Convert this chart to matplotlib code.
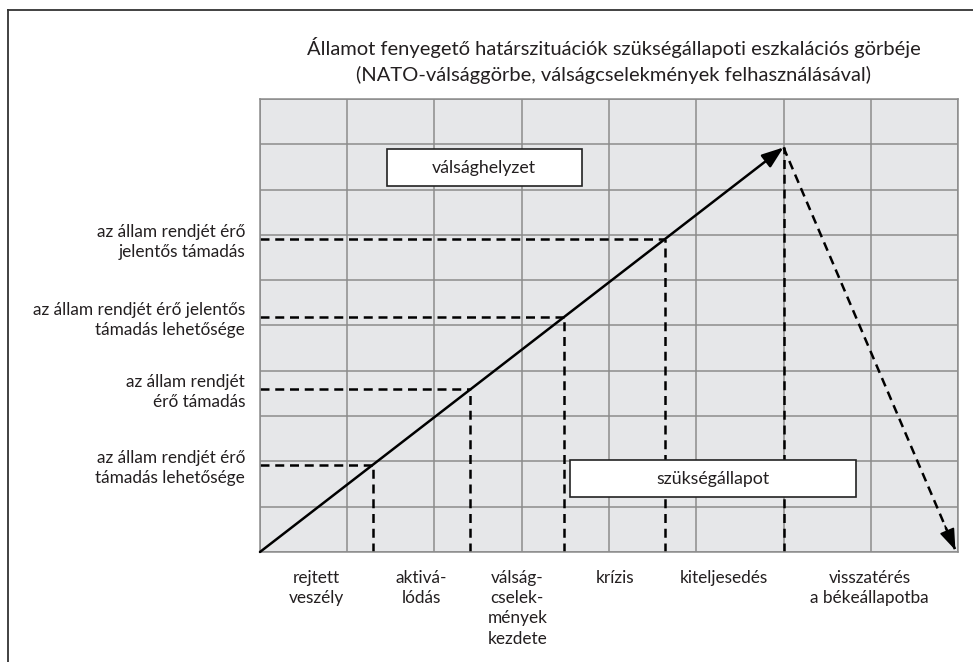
import matplotlib.pyplot as plt
from matplotlib.patches import Rectangle
from matplotlib.lines import Line2D

# ── Data ──────────────────────────────────────────────────────────────────────

title_lines = [
    "Államot fenyegető határszituációk szükségállapoti eszkalációs görbéje",
    "(NATO-válsággörbe, válságcselekmények felhasználásával)",
]

# escalation levels where the threat thresholds cross the curve (grid units)
level_labels = [
    "az állam rendjét érő\ntámadás lehetősége",
    "az állam rendjét\nérő támadás",
    "az állam rendjét érő jelentős\ntámadás lehetősége",
    "az állam rendjét érő\njelentős támadás",
]
level_values = [1.92, 3.59, 5.19, 6.91]

stage_labels = [
    "rejtett\nveszély",
    "aktivá-\nlódás",
    "válság-\ncselek-\nmények\nkezdete",
    "krízis",
    "kiteljesedés",
    "visszatérés\na békeállapotba",
]

peak = (6.0, 8.93)        # top of the escalation curve
return_end = (7.97, 0.04)  # end of the de-escalation arrow

box_labels = ["válsághelyzet", "szükségállapot"]

# ── Style ─────────────────────────────────────────────────────────────────────

plt.rcParams["font.family"] = ["Lato", "DejaVu Sans"]
GRID_BG = "#e6e7e9"
GRID_LINE = "#8c8c8c"
TEXT = "#231f20"
LW = 1.8

fig = plt.figure(figsize=(9.73, 6.62), dpi=100)
ax = fig.add_axes([0.2672, 0.1662, 0.7174, 0.6843])
ax.set_xlim(0, 8)
ax.set_ylim(0, 10)
ax.set_facecolor(GRID_BG)
ax.set_xticks(range(9))
ax.set_yticks(range(11))
ax.grid(True, color=GRID_LINE, linewidth=1.1)
ax.tick_params(length=0, labelbottom=False, labelleft=False)
for sp in ax.spines.values():
    sp.set_color(GRID_LINE)
    sp.set_linewidth(1.1)
ax.set_axisbelow(True)

# outer frame (top + left edge of the page box)
fig.add_artist(Line2D([8 / 973, 1.0], [1 - 10 / 662] * 2, color="#333333", lw=1.3))
fig.add_artist(Line2D([8 / 973] * 2, [0, 1 - 10 / 662], color="#333333", lw=1.3))

# title
for i, line in enumerate(title_lines):
    fig.text(0.6305, 0.9275 - i * 0.0408, line, ha="center", va="center",
             fontsize=14.5, color=TEXT)

dash = (0, (3.6, 2.3))

# escalation curve with arrowhead
ax.annotate("", xy=peak, xytext=(0, 0),
            arrowprops=dict(arrowstyle="-|>,head_length=0.55,head_width=0.2",
                            color="black", lw=LW,
                            mutation_scale=24, shrinkA=0, shrinkB=0))

# threshold guides
slope = peak[1] / peak[0]
event_x = [lv / slope for lv in level_values]
for ex, lv, lab in zip(event_x, level_values, level_labels):
    ax.plot([0, ex], [lv, lv], color="black", lw=LW, linestyle=dash,
            clip_on=False)
    ax.plot([ex, ex], [0, lv], color="black", lw=LW, linestyle=dash)
    ax.text(-0.17, lv - 0.06, lab, ha="right", va="center", fontsize=12.4,
            color=TEXT, linespacing=1.32, clip_on=False)
ax.plot([peak[0], peak[0]], [0, peak[1]], color="black", lw=LW, linestyle=dash)

# de-escalation (dashed) arrow
ax.plot([peak[0], return_end[0]], [peak[1], return_end[1]], color="black",
        lw=LW, linestyle=dash)
dx = return_end[0] - peak[0]
dy = return_end[1] - peak[1]
ax.annotate("", xy=return_end,
            xytext=(return_end[0] - dx * 0.06, return_end[1] - dy * 0.06),
            arrowprops=dict(arrowstyle="-|>,head_length=0.55,head_width=0.2",
                            color="black", lw=1.2,
                            mutation_scale=24, shrinkA=0, shrinkB=0))

# stage labels under the axis, centred between the guide lines
bounds = [0] + event_x + [peak[0], return_end[0]]
for i, lab in enumerate(stage_labels):
    cx = (bounds[i] + bounds[i + 1]) / 2
    ax.text(cx, -0.4, lab, ha="center", va="top", fontsize=12.4, color=TEXT,
            linespacing=1.32, clip_on=False)

# phase boxes
box_geom = [(1.45, 8.07, 2.24, 0.82), (3.55, 1.21, 3.28, 0.81)]
for (bx, by, bw, bh), lab in zip(box_geom, box_labels):
    ax.add_patch(Rectangle((bx, by), bw, bh, facecolor="white",
                           edgecolor="#222222", lw=1.2, zorder=3))
    ax.text(bx + bw / 2, by + bh / 2, lab, ha="center", va="center",
            fontsize=12.8, color=TEXT, zorder=4)

fig.savefig("out.png", dpi=100)
